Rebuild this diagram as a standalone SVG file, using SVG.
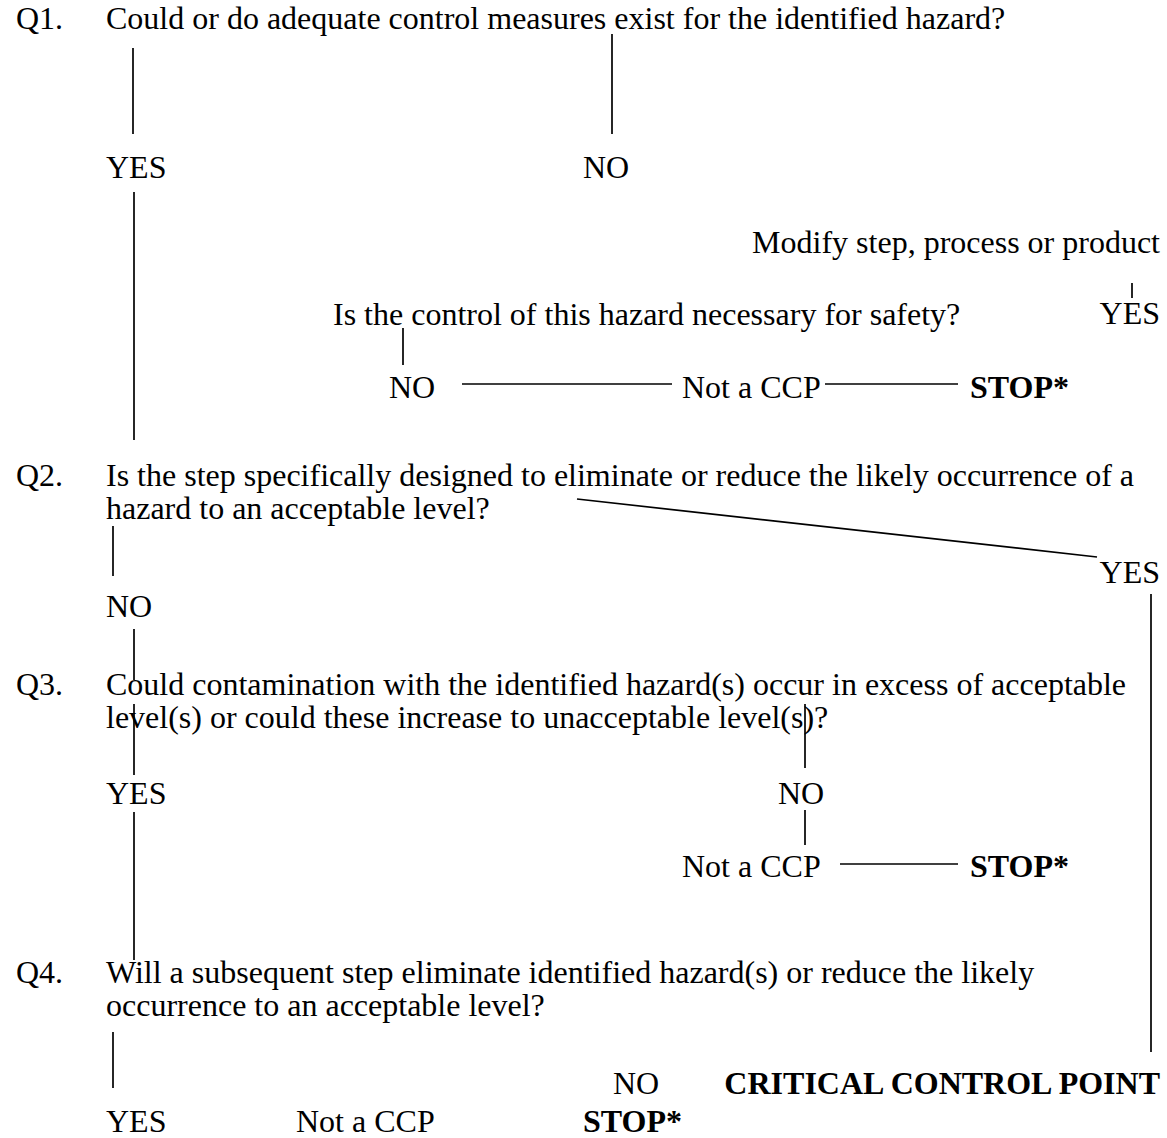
<svg xmlns="http://www.w3.org/2000/svg" width="1167" height="1138" viewBox="0 0 1167 1138">
<style>
text{font-family:"Liberation Serif","Times New Roman",serif;font-size:32px;fill:#000}
.b{font-weight:bold}
.e{text-anchor:end}
line{stroke:#000;stroke-width:1.7}
</style>
<rect width="1167" height="1138" fill="#fff"/>
<g id="q1"><text x="16" y="29">Q1.</text><text x="106" y="29">Could or do adequate control measures exist for the identified hazard?</text></g>
<g id="q1yes"><text x="106" y="178">YES</text></g>
<g id="q1no"><text x="583" y="178">NO</text></g>
<g id="modify"><text class="e" x="1160" y="253">Modify step, process or product</text></g>
<g id="safety"><text x="333" y="325">Is the control of this hazard necessary for safety?</text></g>
<g id="safyes"><text class="e" x="1160" y="324">YES</text></g>
<g id="safno"><text x="389" y="398">NO</text></g>
<g id="ccp1"><text x="682" y="398">Not a CCP</text></g>
<g id="stop1"><text class="b" x="970" y="398">STOP*</text></g>
<g id="q2"><text x="16" y="486">Q2.</text><text x="106" y="486">Is the step specifically designed to eliminate or reduce the likely occurrence of a</text><text x="106" y="519">hazard to an acceptable level?</text></g>
<g id="q2yes"><text class="e" x="1160" y="583">YES</text></g>
<g id="q2no"><text x="106" y="617">NO</text></g>
<g id="q3"><text x="16" y="695">Q3.</text><text x="106" y="695">Could contamination with the identified hazard(s) occur in excess of acceptable</text><text x="106" y="728">level(s) or could these increase to unacceptable level(s)?</text></g>
<g id="q3yes"><text x="106" y="804">YES</text></g>
<g id="q3no"><text x="778" y="804">NO</text></g>
<g id="ccp2"><text x="682" y="877">Not a CCP</text></g>
<g id="stop2"><text class="b" x="970" y="877">STOP*</text></g>
<g id="q4"><text x="16" y="983">Q4.</text><text x="106" y="983">Will a subsequent step eliminate identified hazard(s) or reduce the likely</text><text x="106" y="1016">occurrence to an acceptable level?</text></g>
<g id="q4no"><text x="613" y="1094">NO</text></g>
<g id="cp"><text class="b e" x="1160" y="1094">CRITICAL CONTROL POINT</text></g>
<g id="q4yes"><text x="106" y="1132">YES</text></g>
<g id="ccp3"><text x="296" y="1132">Not a CCP</text></g>
<g id="stop3"><text class="b" x="583" y="1132">STOP*</text></g>
<g id="connectors">
<line x1="133" y1="48" x2="133" y2="134"/>
<line x1="612" y1="34" x2="612" y2="134"/>
<line x1="134" y1="192" x2="134" y2="440"/>
<line x1="1132" y1="283" x2="1132" y2="298"/>
<line x1="403" y1="328" x2="403" y2="365"/>
<line x1="462" y1="384" x2="672" y2="384"/>
<line x1="825" y1="384" x2="958" y2="384"/>
<line x1="577" y1="499" x2="1097" y2="557"/>
<line x1="113" y1="526" x2="113" y2="576"/>
<line x1="134" y1="629" x2="134" y2="680"/>
<line x1="1151" y1="594" x2="1151" y2="1052"/>
<line x1="134" y1="704" x2="134" y2="775"/>
<line x1="805" y1="704" x2="805" y2="768"/>
<line x1="805" y1="810" x2="805" y2="845"/>
<line x1="840" y1="864" x2="958" y2="864"/>
<line x1="134" y1="812" x2="134" y2="960"/>
<line x1="113" y1="1032" x2="113" y2="1088"/>
</g>
</svg>
